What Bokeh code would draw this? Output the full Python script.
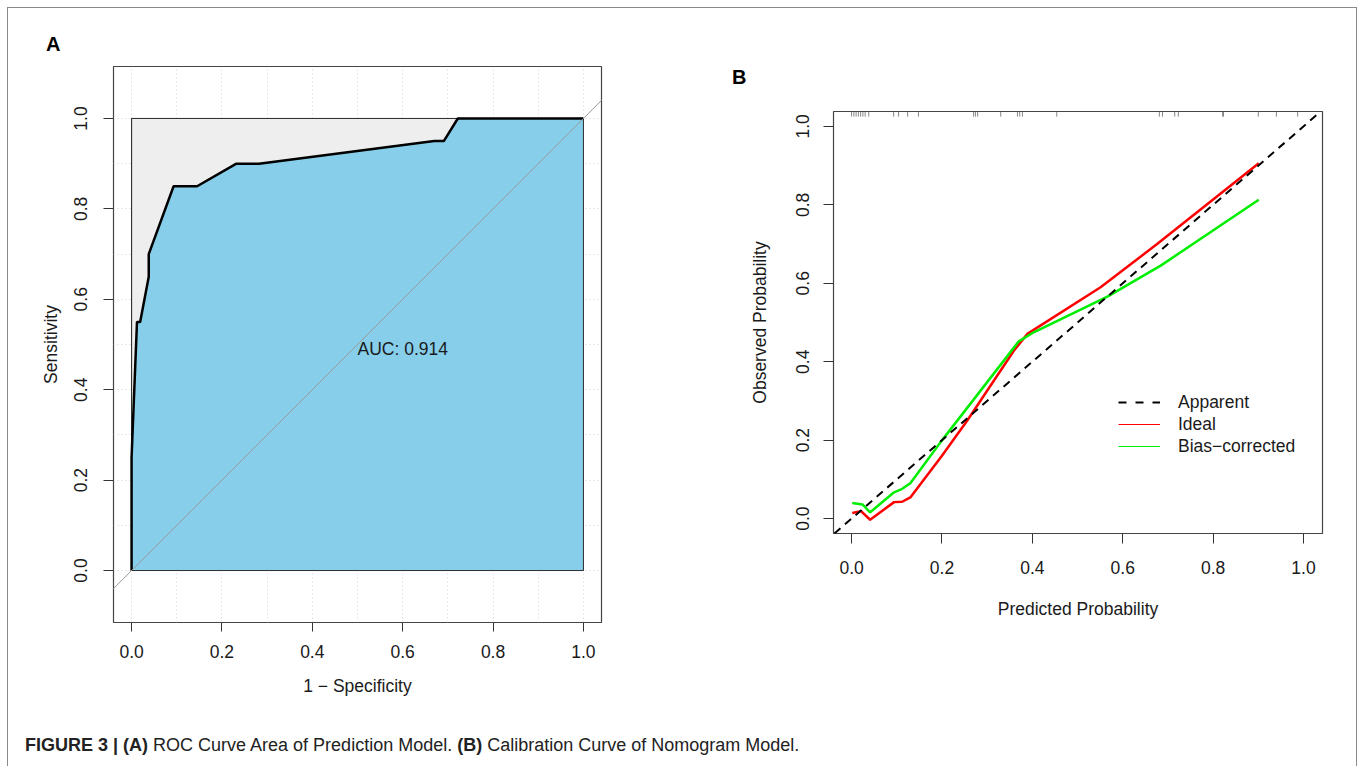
from bokeh.plotting import figure
from bokeh.models import Range1d, Slope, Label, Legend, LegendItem, FixedTicker, Div, ColumnDataSource
from bokeh.embed import file_html
from bokeh.resources import INLINE

# ---------------- data ----------------
# Panel A: ROC curve (1 - specificity, sensitivity)
roc_fpr = [0.0, 0.0, 0.012, 0.019, 0.038, 0.038, 0.093, 0.145, 0.232, 0.282, 0.670, 0.691, 0.722, 1.0]
roc_tpr = [0.0, 0.25, 0.55, 0.55, 0.65, 0.70, 0.85, 0.85, 0.90, 0.90, 0.95, 0.95, 1.0, 1.0]
auc_text = "AUC: 0.914"
tick_vals = [0.0, 0.2, 0.4, 0.6, 0.8, 1.0]
tick_labels = ["0.0", "0.2", "0.4", "0.6", "0.8", "1.0"]
grid_vals = [0.0, 0.1, 0.2, 0.3, 0.4, 0.5, 0.6, 0.7, 0.8, 0.9, 1.0]

# Panel B: calibration curves
ideal_x = [0.0015, 0.021, 0.041, 0.094, 0.112, 0.13, 0.20, 0.256, 0.359, 0.389, 0.551, 0.676, 0.901]
ideal_y = [0.0145, 0.019, -0.003, 0.042, 0.043, 0.054, 0.16, 0.25, 0.428, 0.471, 0.59, 0.70, 0.906]
bias_x = [0.0015, 0.024, 0.041, 0.094, 0.112, 0.13, 0.197, 0.370, 0.403, 0.566, 0.684, 0.901]
bias_y = [0.040, 0.036, 0.016, 0.067, 0.076, 0.09, 0.195, 0.452, 0.475, 0.566, 0.645, 0.813]
rug_x = [0.0, 0.005, 0.01, 0.015, 0.02, 0.025, 0.03, 0.038, 0.093, 0.104, 0.124, 0.148,
         0.27, 0.274, 0.279, 0.33, 0.367, 0.372, 0.378, 0.454, 0.681, 0.688, 0.715, 0.723,
         0.821, 0.823, 0.90, 0.94, 0.987]
legend_labels = ["Apparent", "Ideal", "Bias\u2212corrected"]
panel_letters = ["A", "B"]

FONT = "Liberation Sans"
FS = "17.5px"
TXT = "#1a1a1a"

def style_axes(p, xs_out, ys_out, x_label_stand, y_label_stand, x_title_stand, y_title_stand):
    for ax in (p.xaxis[0], p.yaxis[0]):
        ax.ticker = FixedTicker(ticks=tick_vals)
        ax.major_label_overrides = {v: l for v, l in zip(tick_vals, tick_labels)}
        ax.minor_tick_line_color = None
        ax.axis_line_color = None
        ax.major_tick_in = 0
        ax.major_tick_line_color = "#333333"
        ax.major_label_text_font = FONT
        ax.major_label_text_font_size = FS
        ax.major_label_text_color = TXT
        ax.axis_label_text_font = FONT
        ax.axis_label_text_font_size = FS
        ax.axis_label_text_font_style = "normal"
        ax.axis_label_text_color = TXT
    p.xaxis[0].major_tick_out = xs_out
    p.yaxis[0].major_tick_out = ys_out
    p.xaxis[0].major_label_standoff = x_label_stand
    p.yaxis[0].major_label_standoff = y_label_stand
    p.xaxis[0].axis_label_standoff = x_title_stand
    p.yaxis[0].axis_label_standoff = y_title_stand
    p.yaxis[0].major_label_orientation = "vertical"
    p.outline_line_color = "#444444"
    p.outline_line_width = 1.2
    p.outline_line_alpha = 1.0

# ---------------- Panel A ----------------
pA = figure(width=690, height=702, x_range=Range1d(-0.04, 1.04), y_range=Range1d(-0.115, 1.115),
            output_backend="svg", toolbar_location=None, name="panelA",
            min_border_left=105, min_border_right=97, min_border_top=58, min_border_bottom=88,
            x_axis_label="1 \u2212 Specificity", y_axis_label="Sensitivity")
style_axes(pA, 9, 10, 13, 16, 15, 11)
pA.xgrid.ticker = FixedTicker(ticks=grid_vals)
pA.ygrid.ticker = FixedTicker(ticks=grid_vals)
pA.grid.grid_line_color = "#d0d0d0"
pA.grid.grid_line_dash = "1 3"
pA.grid.grid_line_width = 1

pA.quad(left=[0], right=[1], bottom=[0], top=[1], fill_color="#eeeeee", line_color="#333333", line_width=1)
pA.patch(x=roc_fpr + [1.0], y=roc_tpr + [0.0], fill_color="#87ceeb", line_color=None)
pA.quad(left=[0], right=[1], bottom=[0], top=[1], fill_color=None, line_color="#333333", line_width=1)
pA.add_layout(Slope(gradient=1, y_intercept=0, line_color="#9a9a9a", line_width=1))
pA.line(x=roc_fpr, y=roc_tpr, line_color="black", line_width=2.5)
pA.add_layout(Label(x=0.5, y=0.49, text=auc_text, text_font=FONT, text_font_size=FS,
                    text_color=TXT, text_baseline="middle", text_align="left"))

# ---------------- Panel B ----------------
pB = figure(width=651, height=702, x_range=Range1d(-0.04, 1.042), y_range=Range1d(-0.038, 1.038),
            output_backend="svg", toolbar_location=None, name="panelB",
            min_border_left=135, min_border_right=27, min_border_top=103, min_border_bottom=177,
            x_axis_label="Predicted Probability", y_axis_label="Observed Probability")
style_axes(pB, 10, 10, 17, 14, 22, 24)
pB.grid.grid_line_color = None

rug_src = ColumnDataSource(dict(x=rug_x, y0=[1.038] * len(rug_x), y1=[1.025] * len(rug_x)))
pB.segment(x0="x", x1="x", y0="y0", y1="y1", source=rug_src, line_color="#555555", line_alpha=0.7, line_width=1)
pB.add_layout(Slope(gradient=1, y_intercept=0, line_color="black", line_width=2, line_dash="8 6"))
pB.line(x=ideal_x, y=ideal_y, line_color="#ff0000", line_width=2.5)
pB.line(x=bias_x, y=bias_y, line_color="#00ee00", line_width=2.5)

# legend-only renderers (single point far outside the view, so nothing is drawn in the frame)
r_app = pB.line(x=[-9.0], y=[-9.0], line_color="black", line_width=2, line_dash="8 9")
r_ide = pB.line(x=[-9.0], y=[-9.0], line_color="#ff0000", line_width=1)
r_bia = pB.line(x=[-9.0], y=[-9.0], line_color="#00ee00", line_width=1)
leg = Legend(items=[LegendItem(label=legend_labels[0], renderers=[r_app]),
                    LegendItem(label=legend_labels[1], renderers=[r_ide]),
                    LegendItem(label=legend_labels[2], renderers=[r_bia])],
             location=(285, 76), padding=0, margin=0, spacing=0,
             glyph_width=42, glyph_height=22, label_height=22, label_standoff=18,
             label_text_font=FONT, label_text_font_size=FS, label_text_color=TXT,
             background_fill_alpha=0, border_line_color=None)
pB.add_layout(leg)

# ---------------- panel letters and caption ----------------
def letter_div(txt, name):
    return Div(text=('<div style="line-height:20px; font-family:\'Liberation Sans\', sans-serif; '
                     'font-size:20px; font-weight:bold; color:#000;">' + txt + '</div>'),
               width=30, height=22, margin=0, name=name)

letA = letter_div(panel_letters[0], "letA")
letB = letter_div(panel_letters[1], "letB")

caption = Div(text=('<div style="white-space:nowrap; line-height:20px; '
                    'font-family:\'Liberation Sans Narrow\', \'Liberation Sans\', sans-serif; '
                    'font-size:18px; color:#222;">'
                    '<b>FIGURE 3 | (A)</b> ROC Curve Area of Prediction Model. '
                    '<b>(B)</b> Calibration Curve of Nomogram Model.</div>'),
              width=900, height=22, margin=0, name="caption")

template = """
{% block contents %}
{% from macros import embed with context %}
<style>html, body { overflow: hidden; }</style>
<div style="position:absolute; left:7px; top:7px; width:1350px; height:759px; box-sizing:border-box;
            border-left:1px solid #8a8a8a; border-top:1px solid #8a8a8a; border-right:1px solid #8a8a8a;"></div>
<div style="position:absolute; left:8px; top:8px;">{{ embed(roots["panelA"]) }}</div>
<div style="position:absolute; left:698px; top:8px;">{{ embed(roots["panelB"]) }}</div>
<div style="position:absolute; left:46px; top:34px;">{{ embed(roots["letA"]) }}</div>
<div style="position:absolute; left:732px; top:67px;">{{ embed(roots["letB"]) }}</div>
<div style="position:absolute; left:25px; top:735px;">{{ embed(roots["caption"]) }}</div>
{% endblock %}
"""

open("out.html", "w").write(file_html([pA, pB, letA, letB, caption], INLINE, template=template))
